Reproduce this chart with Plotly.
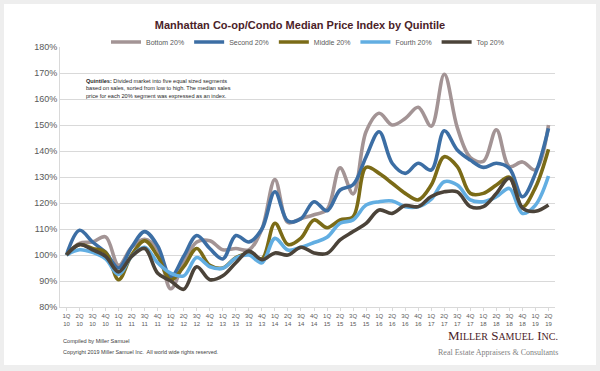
import plotly.graph_objects as go

quarters = ["1Q", "2Q", "3Q", "4Q"]
years = ["10", "11", "12", "13", "14", "15", "16", "17", "18", "19"]
categories = [f"{q}<br>{y}" for y in years for q in quarters][:38]

bottom = [100, 104.5, 105, 107, 96, 103, 106, 102, 87, 97, 105, 105.5, 102, 102.5, 102, 110, 129, 112.5, 114, 115.5,
          117.5, 133.5, 123.5, 147.5, 154.5, 150, 152.5, 156.8, 149.5, 169.5, 149, 137.5, 136, 148.2, 134, 135.8, 132.7, 150]
second = [100, 109.5, 105, 101, 95, 103, 109, 103.5, 91.5, 99.5, 107.5, 102.5, 98.5, 107.5, 105, 110, 124.3, 113, 114, 120.5,
          117, 125, 127, 137.8, 147.4, 135.3, 131.4, 135.3, 132.7, 147.8, 140.4, 136.5, 133.7, 135.3, 133.3, 122.4, 131.4, 148.7]
middle = [100, 104, 102.5, 101, 90.5, 100, 105.5, 99.5, 90.5, 95.5, 102.5, 96, 95, 99, 100.5, 98.5, 112.2, 104, 106.5, 113.5,
          110.5, 113.5, 114.7, 133.7, 131.4, 127.6, 123.7, 121.2, 126.9, 137.8, 134, 123.7, 123.7, 126.9, 129.9, 118.5, 126, 140.7]
fourth = [100, 102, 101, 98.5, 92.5, 99.5, 103, 97, 93, 92, 99, 95.5, 94.9, 98.8, 100, 97, 106.4, 101.9, 103, 104.8,
          106.8, 112.2, 113.5, 119.2, 120.5, 120.8, 118.6, 118.6, 121.5, 128.2, 126.9, 121.2, 120.5, 122.4, 125.6, 116, 119.2, 130.4]
top = [100, 104, 102, 99.5, 93.5, 99.5, 102.5, 93, 90, 86.8, 95.5, 90.5, 92, 97, 101.5, 98.2, 100.8, 100, 103, 100.8,
       100.6, 105.8, 109, 112.2, 117.3, 116, 119, 118.6, 122.5, 124.3, 124.3, 118.6, 118.6, 123.7, 129.5, 118, 116.8, 119.2]

series = [
    ("Bottom 20%", bottom, "#a39495"),
    ("Second 20%", second, "#3c6ea4"),
    ("Middle 20%", middle, "#7b6b17"),
    ("Fourth 20%", fourth, "#62aee2"),
    ("Top 20%", top, "#4b4339"),
]

y_ticks = [80, 90, 100, 110, 120, 130, 140, 150, 160, 170, 180]

fig = go.Figure()
for name, vals, color in series:
    fig.add_trace(go.Scatter(
        x=categories, y=vals, name=name, mode="lines",
        line=dict(color=color, width=3.6, shape="spline", smoothing=1.0),
    ))

FONT = "Liberation Sans, Arial, sans-serif"
SERIF = "Liberation Serif, Times New Roman, serif"

# paper-coordinate helpers (plot area: x 60..555, y 47..307)
L, R, T, B = 60, 45, 47, 64
W, H = 600, 371
pw, ph = W - L - R, H - T - B

def px(x):
    return (x - L) / pw

def py(y):
    return (H - B - y) / ph

fig.update_layout(
    width=W, height=H,
    margin=dict(l=L, r=R, t=T, b=B),
    paper_bgcolor="#eeeeee",
    plot_bgcolor="#ffffff",
    font=dict(family=FONT, color="#595959"),
    title=dict(text="<b>Manhattan Co-op/Condo Median Price Index by Quintile</b>",
               x=0.5, xanchor="center", y=1 - 25 / H, yanchor="middle",
               font=dict(size=11, color="#4a2228", family=FONT)),
    showlegend=True,
    legend=dict(orientation="h", x=0.5, xanchor="center", y=py(42), yanchor="middle",
                font=dict(size=7, color="#595959"), itemwidth=30, bgcolor="rgba(0,0,0,0)",
                tracegroupgap=0),
    xaxis=dict(
        type="category", range=[-0.5, 37.5],
        showgrid=False, showline=True, linecolor="#d9d9d9", linewidth=1,
        ticks="outside", tickcolor="#d9d9d9", ticklen=3,
        tickfont=dict(size=6, color="#595959"), tickangle=0,
    ),
    yaxis=dict(
        range=[80, 180], tickvals=y_ticks, ticktext=[f"{v}%" for v in y_ticks],
        showgrid=True, gridcolor="#d9d9d9", gridwidth=1,
        showline=True, linecolor="#d9d9d9", zeroline=False,
        tickfont=dict(size=9, color="#595959"), ticks="",
    ),
    shapes=[
        dict(type="rect", xref="paper", yref="paper", layer="below",
             x0=px(4), x1=px(596), y0=py(365), y1=py(4),
             fillcolor="#ffffff", line=dict(width=0)),
    ],
    annotations=[
        dict(xref="paper", yref="paper", x=px(84), y=py(76), xanchor="left", yanchor="top",
             align="left", showarrow=False,
             text="<b>Quintiles:</b> Divided market into five equal sized segments<br>"
                  "based on sales, sorted from low to high. The median sales<br>"
                  "price for each 20% segment was expressed as an index.",
             font=dict(size=5.6, color="#262626", family=FONT)),
        dict(xref="paper", yref="paper", x=px(61), y=py(341), xanchor="left", yanchor="middle",
             showarrow=False, text="Compiled by Miller Samuel",
             font=dict(size=5.6, color="#404040", family=FONT)),
        dict(xref="paper", yref="paper", x=px(61), y=py(352), xanchor="left", yanchor="middle",
             showarrow=False, text="Copyright 2019 Miller Samuel Inc.  All world wide rights reserved.",
             font=dict(size=5.4, color="#404040", family=FONT)),
        dict(xref="paper", yref="paper", x=px(560), y=py(335), xanchor="right", yanchor="middle",
             showarrow=False,
             text="M<span style='font-size:10px'>ILLER</span> S<span style='font-size:10px'>AMUEL</span> I<span style='font-size:10px'>NC.</span>",
             font=dict(size=13, color="#4a2228", family=SERIF)),
        dict(xref="paper", yref="paper", x=px(560), y=py(352), xanchor="right", yanchor="middle",
             showarrow=False, text="Real Estate Appraisers &amp; Consultants",
             font=dict(size=8, color="#7f7f7f", family=SERIF)),
    ],
)

fig.write_html(
    "out.html",
    config={"displayModeBar": False},
    post_script="document.body.style.margin='0';document.body.style.overflow='hidden';",
)
